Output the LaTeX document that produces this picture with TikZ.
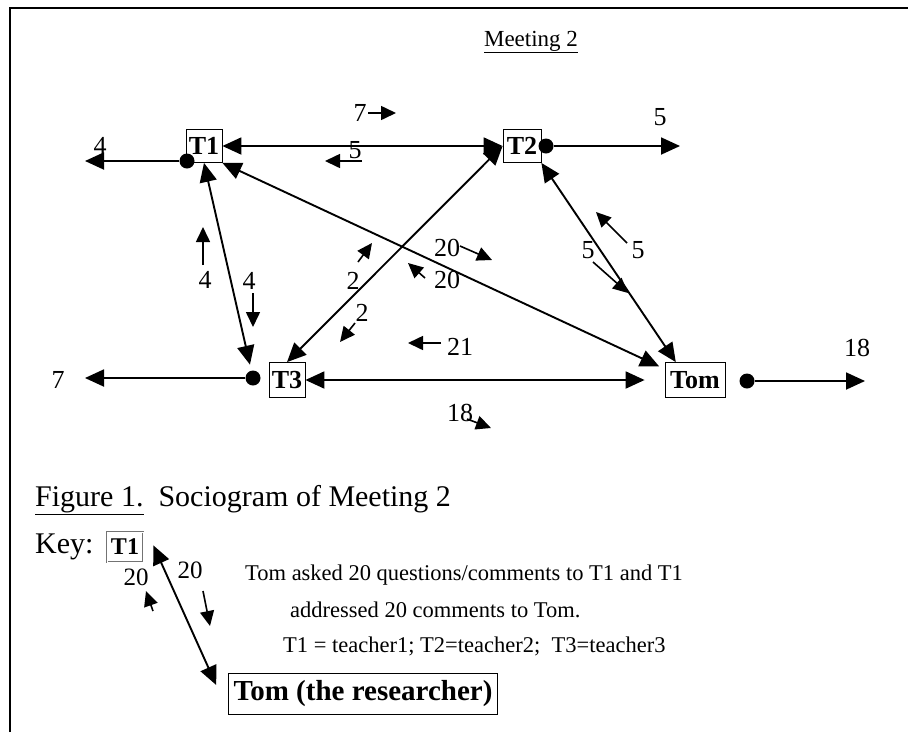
\documentclass[tikz,border=0pt]{standalone}
\usepackage{fontspec}
\setmainfont{Liberation Serif}
\usetikzlibrary{arrows.meta}

\begin{document}
\begin{tikzpicture}[x=1pt, y=-1pt,
    person/.style={draw, thick, font=\fontsize{26}{28}\selectfont\bfseries, inner sep=1pt, minimum width=36pt, minimum height=33pt},
    talk/.style={line width=1.9pt, {Triangle[length=19pt,width=17pt]}-{Triangle[length=19pt,width=17pt]}},
    sendout/.style={line width=1.9pt, -{Triangle[length=19pt,width=17pt]}},
    cue/.style={line width=1.6pt, -{Triangle[length=15pt,width=14pt]}},
    spk/.style={circle, fill, inner sep=0pt, minimum size=15pt},
    cnt/.style={font=\fontsize{26}{28}\selectfont, inner sep=0pt},
    txt/.style={font=\fontsize{22.5}{26}\selectfont, anchor=west, inner sep=0pt}
]
    \useasboundingbox (0,0) rectangle (908,732);

    % frame
    \draw[line width=2pt] (10,732) -- (10,8) -- (908,8);

    % title
    \node[font=\fontsize{23}{26}\selectfont] (title) at (531,42) {\underline{Meeting 2}};

    % the four people
    \node[person] (t1) at (204,146) {T1};
    \node[person, minimum width=38pt] (t2) at (522,146) {T2};
    \node[person, minimum height=35pt] (t3) at (287,380) {T3};
    \node[person, minimum width=60pt, minimum height=35pt] (tom) at (695,380) {Tom};

    % talk to the whole group
    \node[spk] (d1) at (187,161) {};
    \node[spk] (d2) at (546,146) {};
    \node[spk] (d3) at (253,378) {};
    \node[spk] (d4) at (747,381) {};
    \coordinate (g1) at (85,161);
    \coordinate (g2) at (680,146);
    \coordinate (g3) at (85,378);
    \coordinate (g4) at (865,381);
    \draw[sendout] (d1) -- (g1);
    \draw[sendout] (d2) -- (g2);
    \draw[sendout] (d3) -- (g3);
    \draw[sendout] (d4) -- (g4);
    \node[cnt] (n4) at (100,146) {4};
    \node[cnt] (n5) at (660,117) {5};
    \node[cnt] (n7) at (58,380) {7};
    \node[cnt] (n18) at (857,348) {18};

    % talk between two people
    \draw[talk] (t1) -- (t2);
    \draw[talk, shorten >=20pt] (t3) -- (tom);
    \draw[talk, shorten >=6pt] (t1.south) -- (d3);
    \draw[talk, shorten >=6pt] (t1.south east) -- (tom.160);
    \draw[talk] (t2.west) -- (t3.north);
    \draw[talk] (t2.south east) -- (tom.137);

    % counts with their direction
    \foreach \lx/\ly/\lbl/\ax/\ay/\bx/\by [count=\i] in {
        360/113/7/368/113/396/113,
        355/150/5/362/161/325/161,
        205/280/4/203/265/203/227,
        249/281/4/253/293/253/327,
        353/281/2/358/262/372/243,
        362/313/2/355/323/340/342,
        447/248/20/460/246/492/260,
        447/280/20/425/278/408/263,
        460/347/21/441/343/408/343,
        460/413/18/467/419/491/428,
        588/250/5/593/262/628/293,
        638/250/5/627/243/596/212} {
        \node[cnt] (c\i) at (\lx,\ly) {\lbl};
        \draw[cue] (\ax,\ay) -- (\bx,\by);
    }

    % caption and key
    \node[txt, font=\fontsize{30}{34}\selectfont] (cap) at (35,500) {\underline{Figure 1.}\ \ Sociogram of Meeting 2};
    \node[txt, font=\fontsize{30}{34}\selectfont] (key) at (35,547) {Key:};
    \node[person, draw=black!55, double, double distance=1pt, font=\fontsize{24}{26}\selectfont\bfseries, minimum height=30pt] (kt1) at (125,547) {T1};
    \node[draw, thick, font=\fontsize{29}{32}\selectfont\bfseries, inner sep=5pt, minimum height=41pt] (res) at (363,694) {Tom (the researcher)};
    \draw[talk] ([xshift=10pt,yshift=17pt]kt1.south east) -- ([xshift=-12pt,yshift=9pt]res.west);
    \foreach \lx/\ly/\ax/\ay/\bx/\by [count=\i] in {
        136/577/153/611/146/591,
        190/570/203/591/210/626} {
        \node[cnt, font=\fontsize{25}{27}\selectfont] (k\i) at (\lx,\ly) {20};
        \draw[cue] (\ax,\ay) -- (\bx,\by);
    }
    \node[txt] (ex1) at (245,575) {Tom asked 20 questions/comments to T1 and T1};
    \node[txt] (ex2) at (290,610) {addressed 20 comments to Tom.};
    \node[txt] (ex3) at (283,646) {T1 = teacher1; T2=teacher2;\ \ T3=teacher3};
\end{tikzpicture}
\end{document}
